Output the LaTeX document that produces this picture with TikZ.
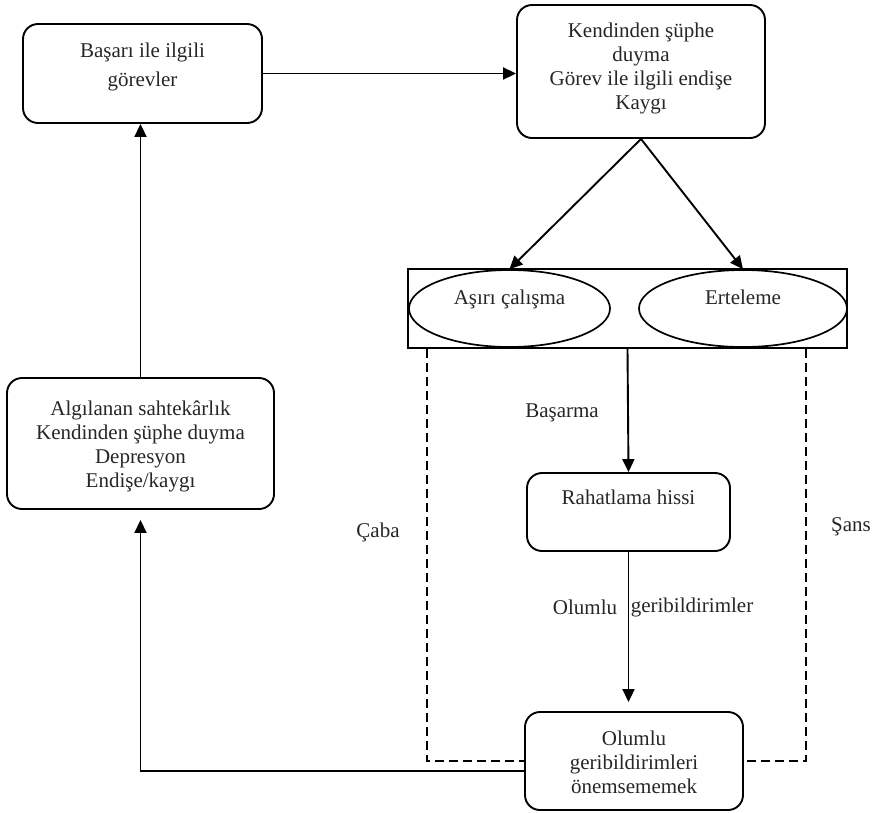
\documentclass[tikz,border=0pt]{standalone}
\usepackage{fontspec}
\setmainfont{Liberation Serif}
\usetikzlibrary{shapes}
\usetikzlibrary{arrows.meta}

\begin{document}
\begin{tikzpicture}[x=1pt,y=-1pt]
	\tikzstyle{every node}=[font=\fontsize{21}{24}\selectfont,text=black!85]
	\tikzstyle{kutu}=[draw,rounded corners=15pt,align=center,inner sep=0pt,line width=1.9pt]
	\tikzstyle{elips}=[draw,ellipse,inner sep=0pt,line width=1.7pt,minimum height=77pt,text height=12pt,text depth=20pt]
	\tikzstyle{ok}=[line width=1.9pt,-{Triangle[length=13pt,width=12pt]}]
	\tikzstyle{kesik}=[line width=1.9pt,dash pattern=on 9pt off 5pt]

	\useasboundingbox (0,0) rectangle (872,812);

	\node[kutu,minimum width=239pt,text height=62pt,text depth=37pt] (gorev) at (142.5,73.5) {Başarı ile ilgili\\[5pt]görevler};
	\node[kutu,minimum width=248pt,text height=104pt,text depth=29pt] (suphe) at (641,71.5) {Kendinden şüphe\\duyma\\Görev ile ilgili endişe\\Kaygı};
	\node[draw,inner sep=0pt,line width=1.7pt,minimum width=439pt,minimum height=79pt] (kap) at (627.5,308.5) {};
	\node[elips,minimum width=201pt] (calisma) at (509.5,308.5) {Aşırı çalışma};
	\node[elips,minimum width=208pt] (erteleme) at (743,308.5) {Erteleme};
	\node[kutu,minimum width=203pt,text height=31pt,text depth=47pt] (rahat) at (628.5,512) {Rahatlama hissi};
	\node[kutu,minimum width=218pt,text height=81pt,text depth=17pt] (onemse) at (634,761) {Olumlu\\geribildirimleri\\önemsememek};
	\node[kutu,minimum width=267pt,text height=109pt,text depth=22pt] (algi) at (140.5,443.5) {Algılanan sahtekârlık\\Kendinden şüphe duyma\\Depresyon\\Endişe/kaygı};

	% etiketler
	\node (basarma) at (562,413) {Başarma};
	\node (olumlu) at (585,607) {Olumlu};
	\node (geri) at (692,607) {geribildirimler};
	\node (caba) at (378,532) {Çaba};
	\node (sans) at (851,527) {Şans};

	% oklar
	\draw[ok] (gorev.east) -- (gorev.east -| suphe.west);
	\draw[ok] (suphe.south) -- (calisma.north);
	\draw[ok] (suphe.south) -- (erteleme.north);
	\draw[ok] (kap.south) -- (rahat.north);
	\draw[ok,shorten >=9pt] (rahat.south) -- (rahat.south |- onemse.north);
	\draw[ok,shorten >=10pt] ([yshift=-10pt]onemse.west) -| (algi.south);
	\draw[ok] (algi.north) -- (algi.north |- gorev.south);
	\draw[kesik] ([xshift=20pt]kap.south west) |- (onemse.west);
	\draw[kesik] ([xshift=-42pt]kap.south east) |- (onemse.east);
\end{tikzpicture}
\end{document}
